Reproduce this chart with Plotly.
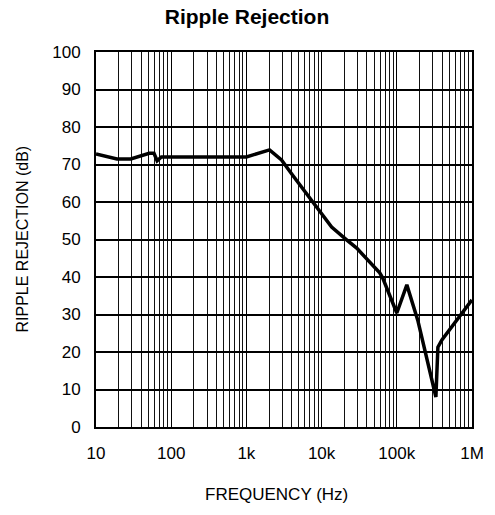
import plotly.graph_objects as go

freq_hz = [10, 19, 29, 51, 59, 65, 74, 1000, 2030, 2930, 4100, 8580, 13600, 21500, 29300,
           59300, 65000, 100000, 136000, 190000, 331000, 352000, 398000, 1000000]
rejection_db = [72.8, 71.5, 71.5, 73.0, 73.0, 71.0, 72.0, 72.0, 73.9, 71.2, 67.2, 58.7, 53.3, 49.9, 47.7,
                41.1, 39.7, 30.4, 37.9, 28.5, 8.0, 21.3, 23.2, 33.9]

x_tick_vals = [10, 100, 1000, 10000, 100000, 1000000]
x_tick_text = ["10", "100", "1k", "10k", "100k", "1M"]
y_tick_vals = [0, 10, 20, 30, 40, 50, 60, 70, 80, 90, 100]

font_family = "Liberation Sans, Arial, sans-serif"
W, H = 495, 515

fig = go.Figure()
fig.add_trace(go.Scatter(x=freq_hz, y=rejection_db, mode="lines",
                         line=dict(color="black", width=3.5), showlegend=False))

fig.update_layout(
    width=W, height=H,
    margin=dict(l=96, r=23, t=52, b=88),
    paper_bgcolor="white", plot_bgcolor="white",
    font=dict(family=font_family, color="black", size=17),
    title=dict(text="<b>Ripple Rejection</b>", x=247 / W, xanchor="center",
               y=1 - 17 / H, yanchor="middle", font=dict(size=21)),
    annotations=[
        dict(text="FREQUENCY (Hz)", xref="paper", yref="paper",
             x=(276 - 96) / (W - 96 - 23), y=-(494 - 427) / (427 - 52),
             xanchor="center", yanchor="middle", showarrow=False, font=dict(size=17)),
        dict(text="RIPPLE REJECTION (dB)", xref="paper", yref="paper",
             x=-(96 - 22) / (W - 96 - 23), y=0.5, textangle=-90,
             xanchor="center", yanchor="middle", showarrow=False, font=dict(size=16)),
    ],
)
fig.update_xaxes(
    type="log", range=[1, 6], automargin=False,
    tickvals=x_tick_vals, ticktext=x_tick_text,
    showgrid=True, gridcolor="black", gridwidth=1,
    minor=dict(dtick="D1", showgrid=True, gridcolor="#111", gridwidth=1, ticks=""),
    showline=True, linecolor="black", linewidth=2, mirror=True,
    ticks="", tickfont=dict(size=17), ticklabelstandoff=10,
    zeroline=False,
)
fig.update_yaxes(
    range=[0, 100], tickvals=y_tick_vals, automargin=False,
    showgrid=True, gridcolor="black", gridwidth=1.5,
    showline=True, linecolor="black", linewidth=2, mirror=True,
    ticks="", tickfont=dict(size=17), ticklabelstandoff=10,
    zeroline=False,
)

fig.write_html("out.html", config={"displayModeBar": False},
               post_script="document.body.style.margin='0';document.body.style.overflow='hidden';")
